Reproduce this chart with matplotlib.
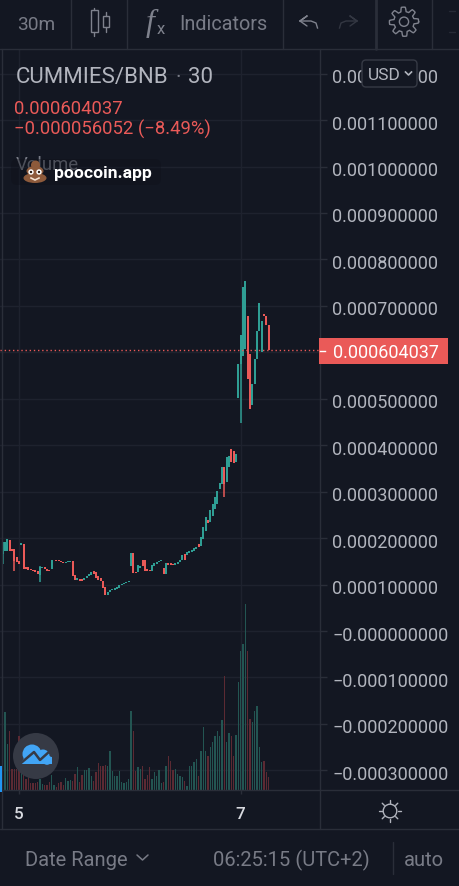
import numpy as np
import matplotlib
matplotlib.use("Agg")
import matplotlib.pyplot as plt
from matplotlib.patches import Circle, Ellipse, FancyBboxPatch, Rectangle, Polygon
from matplotlib.transforms import ScaledTranslation

plt.rcParams['font.family'] = ['Roboto', 'DejaVu Sans']

# ---------- data (prices in 1e-6 BNB) ----------
directions = ("TTTRR" "RRRTR" "RRRRR" "RTTRR" "RTTRR" "RRTTT" "RRTRR" "TTTTR" "RRRRR"
              "TTTTT" "TTTTT" "TRRTT" "RRRRT" "TTTTR" "TRRRT" "TTTRT" "TTTTR" "TTTRT"
              "TTTTT" "RTTRR" "TTTTT" "RRTTT" "TTRRR")
body_top = [190.9, 190.9, 198.0, 196.6, 176.5, 176.5, 158.6, 151.4, 189.4, 187.3,
            138.5, 137.0, 133.4, 132.0, 131.3, 129.9, 138.5, 138.5, 137.0, 133.4,
            132.0, 152.8, 153.5, 153.5, 152.1, 150.7, 149.2, 149.2, 150.0, 150.7,
            150.0, 120.5, 113.3, 111.9, 111.2, 113.3, 119.1, 122.7, 126.3, 129.1,
            127.7, 117.6, 113.3, 108.3, 94.0, 84.6, 89.0, 90.4, 92.5, 95.4,
            99.0, 101.1, 102.6, 104.7, 108.3, 167.2, 167.2, 127.7, 142.1, 140.6,
            153.5, 153.5, 133.4, 132.0, 142.1, 146.4, 149.2, 151.4, 152.1, 135.6,
            146.4, 147.1, 145.6, 144.9, 146.4, 149.2, 153.5, 163.6, 165.7, 169.3,
            171.5, 175.1, 177.9, 180.9, 187.3, 202.4, 223.9, 245.4, 239.0, 260.5,
            273.4, 288.5, 301.4, 318.6, 353.1, 353.1, 374.6, 376.8, 391.8, 387.5,
            381.1, 574.9, 637.3, 740.6, 753.6, 678.2, 596.4, 531.8, 585.6, 645.9,
            706.2, 667.4, 682.5, 678.2, 658.8]
body_bottom = [165.0, 172.9, 172.9, 172.9, 172.9, 150.0, 147.8, 144.2, 185.1, 133.4,
               133.4, 132.0, 131.3, 129.9, 127.7, 122.7, 120.0, 134.9, 133.4, 129.9,
               128.4, 133.4, 152.1, 151.4, 149.9, 147.8, 146.4, 146.4, 147.8, 149.2,
               119.1, 110.5, 109.8, 108.3, 108.3, 109.8, 113.3, 117.6, 120.5, 122.7,
               113.3, 110.5, 106.9, 92.5, 77.5, 77.5, 83.2, 87.5, 89.0, 91.1,
               93.2, 99.0, 100.4, 102.6, 104.7, 140.6, 124.1, 124.1, 126.3, 135.6,
               139.2, 129.9, 128.4, 128.4, 129.9, 140.6, 144.2, 147.8, 149.9, 122.7,
               122.7, 142.1, 142.1, 142.1, 142.8, 144.9, 147.8, 153.5, 153.5, 164.3,
               167.2, 169.3, 172.9, 176.5, 180.9, 183.0, 198.1, 215.3, 232.5, 234.7,
               247.6, 262.7, 273.4, 305.7, 316.5, 316.5, 320.8, 353.1, 363.9, 361.7,
               363.9, 501.6, 574.9, 592.0, 607.1, 542.6, 478.0, 486.6, 531.8, 585.6,
               645.9, 600.7, 678.2, 658.8, 604.0]
wick_index = [0, 5, 16, 95, 102]
wick_high = [190.9, 176.5, 140.6, 353.1, 637.3]
wick_low = [144.2, 129.9, 104.7, 288.5, 447.8]
volumes = [213, 233, 138, 178, 63, 63, 63, 163, 53, 53, 33, 43, 21, 21, 21, 23, 33, 18, 15, 15,
           23, 45, 15, 8, 21, 25, 15, 36, 28, 30, 28, 48, 68, 23, 45, 61, 61, 66, 43, 28,
           53, 81, 73, 73, 75, 71, 116, 58, 43, 43, 56, 23, 21, 23, 33, 236, 178, 58, 70, 63,
           73, 33, 45, 68, 33, 53, 43, 61, 21, 25, 73, 103, 88, 61, 63, 48, 43, 38, 28, 13,
           73, 73, 83, 93, 43, 118, 188, 118, 103, 128, 143, 163, 178, 163, 211, 341, 143, 171, 163, 103,
           165, 323, 418, 438, 558, 418, 213, 203, 238, 251, 128, 83, 88, 53, 40]
last_price = 604.037
price_ticks = [1200, 1100, 1000, 900, 800, 700, 600, 500, 400, 300, 200, 100, 0, -100, -200, -300]
tick_labels = ["0.001200000", "0.001100000", "0.001000000", "0.000900000", "0.000800000",
               "0.000700000", "", "0.000500000", "0.000400000", "0.000300000",
               "0.000200000", "0.000100000", "\u22120.000000000", "\u22120.000100000",
               "\u22120.000200000", "\u22120.000300000"]
date_ticks = [7, 102]
date_labels = ["5", "7"]

# ---------- colours ----------
BG = "#131722"
GRID = "#1e222e"
LINE = "#2a2e39"
TXT = "#b2b5be"
DIM = "#787b86"
UP = "#2f9e94"
DOWN = "#ea5a58"
UP_V = "#235552"
DOWN_V = "#5c2a33"

W, H = 460, 887
fig = plt.figure(figsize=(W / 100, H / 100), dpi=100, facecolor=BG)

def rect(l, t, r, b):
    return [l / W, 1 - b / H, (r - l) / W, (b - t) / H]

ax = fig.add_axes(rect(0, 50, 320, 791), facecolor=BG)
n = len(body_top)
x = np.arange(n)
ax.set_xlim(-8 / 7, 136)
ax.set_ylim(-342.3, 1253)
up = [d == "T" for d in directions]
cols = [UP if u else DOWN for u in up]
vcols = [UP_V if u else DOWN_V for u in up]

ax.set_yticks(price_ticks)
ax.set_yticklabels(tick_labels)
ax.set_xticks(date_ticks)
ax.set_xticklabels(date_labels, fontsize=12.3, color="#d8dae0", fontweight="medium")
ax.yaxis.tick_right()
ax.tick_params(axis="y", length=5, width=1, color=LINE, labelsize=13, labelcolor=TXT, pad=4)
ax.tick_params(axis="x", length=3, width=1, color=LINE, pad=8.5)
label_shift = ScaledTranslation(0, -1.5 / 72 * 0.72, fig.dpi_scale_trans)
for lab in ax.get_yticklabels():
    lab.set_transform(lab.get_transform() + label_shift)
ax.grid(True, color=GRID, lw=1)
ax.set_axisbelow(True)
for s in ax.spines.values():
    s.set_visible(False)

ax.vlines(wick_index, wick_low, wick_high, colors=[cols[i] for i in wick_index], lw=1.1, zorder=3)
ax.bar(x, np.array(body_top) - np.array(body_bottom), bottom=body_bottom, width=0.8,
       color=cols, lw=0, zorder=3)
ax.axhline(last_price, color=DOWN, lw=1, ls=(0, (1, 2)), zorder=4)

axv = fig.add_axes(rect(0, 50, 320, 791), sharex=ax, facecolor="none")
axv.set_ylim(0, 2223)
axv.bar(x, volumes, width=0.45, color=vcols, lw=0)
axv.axis("off")

# ---------- interface overlay (pixel coordinates) ----------
ui = fig.add_axes([0, 0, 1, 1], facecolor="none")
ui.set_xlim(0, W)
ui.set_ylim(H, 0)
ui.axis("off")

def txt(px, py, s, size, color=TXT, **kw):
    return ui.text(px, py, s, fontsize=size, color=color, va="baseline", ha=kw.pop("ha", "left"), **kw)

def line(xs, ys, color=LINE, lw=1.0, **kw):
    ui.plot(xs, ys, color=color, lw=lw, solid_capstyle="round", solid_joinstyle="round", **kw)

# frame
line([2, 2], [50, 830])
line([320, 320], [50, 830])
line([0, 460], [50, 50])
line([0, 460], [791, 791])
line([0, 460], [830, 830])
for sx in [71.5, 127.5, 283.5, 432.5]:
    line([sx, sx], [0, 50])
line([376.5, 376.5], [0, 50], lw=2)
line([393, 393], [843, 875])
ui.add_patch(Rectangle((0, 767), 2.2, 26, color="#2196f3", lw=0, zorder=5))

# top bar
txt(17, 30, "30m", 13.8, DIM)
txt(179, 30, "Indicators", 14.3, DIM)
ICON = "#7f828d"
for cx, t, b, wt, wb in [(94.5, 11, 33, 9, 37), (106, 17, 28, 13, 33)]:
    ui.add_patch(Rectangle((cx - 3, t), 6.4, b - t, fill=False, ec=ICON, lw=1.0))
    line([cx, cx], [wt, t], ICON, 1.0)
    line([cx, cx], [b, wb], ICON, 1.0)
ui.text(146, 31, "f", fontsize=23, color=ICON, family="Liberation Serif", style="italic", va="baseline")
txt(157, 34, "x", 12, ICON)
# undo / redo
line([300, 307, 300, 307], [22, 17, 22, 27], ICON, 1.0)
ui.plot(np.array([300, 311, 316, 317.5]), [22, 22, 24, 29], color=ICON, lw=1.0)
line([357, 350, 357, 350], [22, 17, 22, 27], "#333742", 1.0)
ui.plot(np.array([357, 346, 341, 339.5]), [22, 22, 24, 29], color="#333742", lw=1.0)
# gear
th = np.linspace(0, 2 * np.pi, 241)
rad = 12.4 + 2.2 * np.clip(2.2 * np.cos(8 * th + np.pi / 8), -1, 1)
ui.plot(404 + rad * np.cos(th), 22.7 + rad * np.sin(th), color=ICON, lw=1.0)
ui.add_patch(Circle((404, 22.7), 4.6, fill=False, ec=ICON, lw=1.0))
line([449, 455], [12, 12], "#262a36", 1)
line([449, 455], [33, 33], "#262a36", 1)

# legend
txt(16, 83, "CUMMIES/BNB", 16)
txt(176, 83, "\u00b7", 15.2, DIM)
txt(188, 83, "30", 16)
txt(14, 114, "0.000604037", 13.3, DOWN)
txt(14, 135, "\u22120.000056052 (\u22128.49%)", 13.3, DOWN)
ui.text(16, 170, "Volume", fontsize=13.3, color=DIM, va="baseline", zorder=2)

# watermark
ui.add_patch(FancyBboxPatch((11, 160), 150, 26, boxstyle="round,pad=0,rounding_size=6",
                            fc="#0e111a", ec="none", alpha=0.4, zorder=3))
BROWN = "#8d5a3b"
ui.add_patch(Ellipse((35, 179), 23, 10, color=BROWN, lw=0, zorder=4))
ui.add_patch(Ellipse((35, 172), 17, 10, color=BROWN, lw=0, zorder=4))
ui.add_patch(Ellipse((35.5, 166), 9, 9, color=BROWN, lw=0, zorder=4))
for ex in (31, 39):
    ui.add_patch(Circle((ex, 173), 2.7, color="white", lw=0, zorder=5))
    ui.add_patch(Circle((ex, 173), 1.2, color="#2a1a10", lw=0, zorder=6))
ui.plot([31, 35, 39], [179, 181, 179], color="#f2e0d0", lw=1.2, zorder=6)
ui.text(54, 178, "poocoin.app", fontsize=12.6, color="white", fontweight="bold", va="baseline", zorder=6)

# USD button
ui.add_patch(FancyBboxPatch((362, 61), 55, 27, boxstyle="round,pad=0,rounding_size=4",
                            fc=BG, ec="#363a45", lw=1, zorder=5))
ui.text(368, 80, "USD", fontsize=12.5, color=TXT, va="baseline", zorder=6)
ui.plot([405.5, 408.5, 411.5], [73, 76, 73], color=TXT, lw=1.2, zorder=6)

# price tag
ui.add_patch(Rectangle((319.5, 338.5), 128.5, 26, color=DOWN, lw=0, zorder=5))
ui.plot([320, 325], [351.7, 351.7], color="white", lw=1, zorder=6)
ui.text(333, 358.3, "0.000604037", fontsize=13, color="white", va="baseline", zorder=6)

# logo
ui.add_patch(Circle((36, 757), 23, color="#363a45", lw=0, zorder=3))
BLUE = "#42a5f5"
ui.add_patch(Circle((32, 755), 9.5, color=BLUE, lw=0, zorder=4))
ui.add_patch(Circle((43, 757), 6.5, color=BLUE, lw=0, zorder=4))
ui.add_patch(Circle((47, 761), 4.8, color=BLUE, lw=0, zorder=4))
ui.add_patch(Polygon([(20, 765), (27, 755), (52, 758), (52, 765)], color=BLUE, lw=0, zorder=4))
ui.plot([21, 34, 40, 50], [764, 753, 761, 752], color="#363a45", lw=1.8, zorder=5)

# bottom bar
txt(25, 866, "Date Range", 14.5, DIM)
line([137, 142.5, 148], [856, 861, 856], DIM, 1.1)
txt(213, 866, "06:25:15 (UTC+2)", 14.5, DIM)
txt(404, 866, "auto", 14.5, DIM)

# sun
ui.add_patch(Circle((390, 812), 6.8, fill=False, ec=TXT, lw=1))
for a in np.arange(8) * np.pi / 4:
    line([390 + 8 * np.cos(a), 390 + 11 * np.cos(a)], [812 + 8 * np.sin(a), 812 + 11 * np.sin(a)], TXT, 1)

fig.savefig("out.png", dpi=100, facecolor=BG)
